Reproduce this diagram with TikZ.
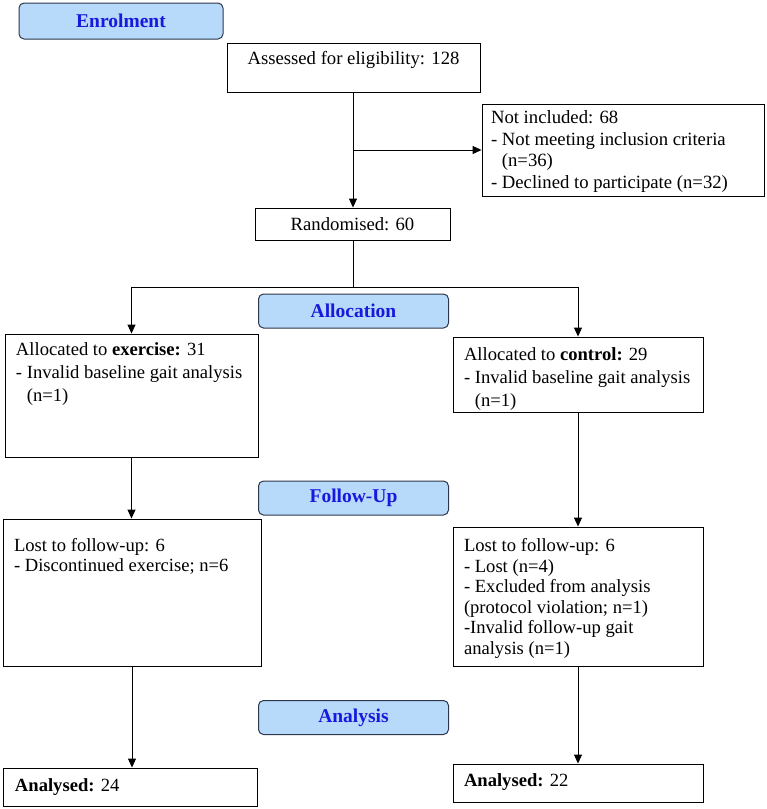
\documentclass[tikz,border=0pt]{standalone}
\usepackage{fontspec}
\setmainfont{Liberation Serif}
\usetikzlibrary{arrows.meta}
\definecolor{hdrfill}{RGB}{183,217,250}
\definecolor{hdrline}{RGB}{45,55,75}
\definecolor{hdrtext}{RGB}{25,25,220}
\newcommand{\tb}[3]{\parbox[c][#2pt][t]{#1pt}{\raggedright #3}}
\begin{document}
\begin{tikzpicture}[x=1pt,y=-1pt,
  hdr/.style={draw=hdrline, fill=hdrfill, line width=1pt, rounded corners=5pt, inner sep=0pt,
    minimum width=190pt, minimum height=34pt,
    font=\fontsize{19.5}{23}\selectfont\bfseries, text=hdrtext},
  cell/.style={draw, line width=0.9pt},
  arr/.style={line width=0.9pt, -{Triangle[length=9pt,width=8pt]}},
  ln/.style={line width=0.9pt}]
\useasboundingbox (0,0) rectangle (767,809);

% phase headers
\node[hdr, minimum width=204pt, minimum height=36pt] (enrol) at (121,21) {Enrolment};
\node[hdr] (alloc) at (353.5,311) {Allocation};
\node[hdr] (follow) at (353.5,498) {Follow-Up};
\node[hdr] (analysis) at (353.5,717.5) {Analysis};

% boxes
\node[cell, inner xsep=8pt, inner ysep=8pt, font=\fontsize{18.7}{21.5}\selectfont] (assess) at (353.5,67.5)
  {\tb{237}{33}{\centering Assessed for eligibility: 128}};
\node[cell, inner xsep=9pt, inner ysep=6.5pt, font=\fontsize{18.7}{21.7}\selectfont] (notinc) at (623,150)
  {\tb{264}{79}{Not included: 68\\
  - Not meeting inclusion criteria\\
  \hphantom{-}~(n=36)\\
  - Declined to participate (n=32)}};
\node[cell, minimum width=195pt, minimum height=32pt, inner sep=0pt, font=\fontsize{18.7}{21}\selectfont] (rand) at (352.5,224)
  {Randomised: 60};
\node[cell, inner xsep=11pt, inner ysep=9pt, font=\fontsize{18.6}{23}\selectfont] (ex) at (131.5,395.5)
  {\tb{231}{105}{Allocated to \textbf{exercise:} 31\\
  - Invalid baseline gait analysis\\
  \hphantom{-}~(n=1)}};
\node[cell, inner xsep=11pt, inner ysep=10.5pt, font=\fontsize{18.6}{23}\selectfont] (ctrl) at (578,374.5)
  {\tb{228}{54}{Allocated to \textbf{control:} 29\\
  - Invalid baseline gait analysis\\
  \hphantom{-}~(n=1)}};
\node[cell, inner xsep=11pt, inner ysep=19pt, font=\fontsize{18.6}{20.5}\selectfont] (lostL) at (132,592.5)
  {\tb{236}{109}{Lost to follow-up: 6\\
  - Discontinued exercise; n=6}};
\node[cell, inner xsep=11pt, inner ysep=11.5pt, font=\fontsize{18.6}{20.5}\selectfont] (lostR) at (578,596.5)
  {\tb{228}{116}{Lost to follow-up: 6\\
  - Lost (n=4)\\
  - Excluded from analysis\\
  (protocol violation; n=1)\\
  -Invalid follow-up gait\\
  analysis (n=1)}};
\node[cell, inner xsep=12pt, inner ysep=11pt, font=\fontsize{18.6}{21}\selectfont] (anL) at (130,787)
  {\tb{230}{16}{\textbf{Analysed:} 24}};
\node[cell, inner xsep=11pt, inner ysep=9.5pt, font=\fontsize{18.6}{21}\selectfont] (anR) at (578,783)
  {\tb{228}{19}{\textbf{Analysed:} 22}};

% connectors
\coordinate (trunk) at (353,150);
\coordinate (split) at (353,287);
\draw[arr] (assess.south -| trunk) -- (rand.north -| trunk);
\draw[arr] (trunk) -- (notinc.west);
\draw[ln] (rand.south -| split) -- (split);
\draw[arr] (split) -| (ex.north);
\draw[arr] (split) -| (ctrl.north);
\draw[arr] (ex.south) -- (ex.south |- lostL.north);
\draw[arr] (ctrl.south) -- (lostR.north);
\draw[arr] (lostL.south) -- (lostL.south |- anL.north);
\draw[arr] (lostR.south) -- (anR.north);
\end{tikzpicture}
\end{document}
